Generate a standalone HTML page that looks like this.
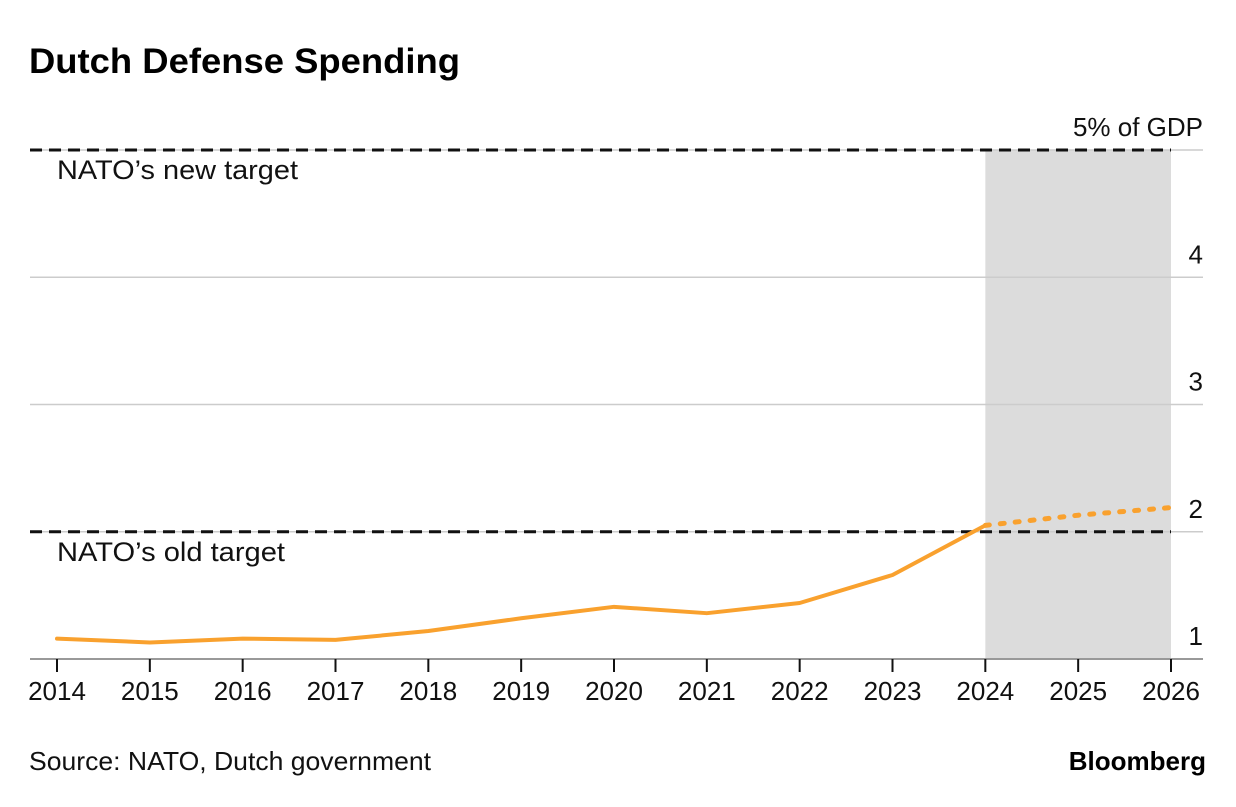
<!DOCTYPE html>
<html><head><meta charset="utf-8"><style>
body{margin:0;background:#fff;font-family:"Liberation Sans",sans-serif;}
</style></head><body>
<svg width="1236" height="802" xmlns="http://www.w3.org/2000/svg" font-family="Liberation Sans, sans-serif">
<text x="29" y="73" font-size="35" font-weight="bold" textLength="431" lengthAdjust="spacingAndGlyphs">Dutch Defense Spending</text>
<g id="plot"></g>
<text x="29" y="770" font-size="26" fill="#111" textLength="402" lengthAdjust="spacingAndGlyphs">Source: NATO, Dutch government</text>
<text x="1206" y="770" font-size="26" font-weight="bold" text-anchor="end">Bloomberg</text>
</svg>
<script>
const years=[2014,2015,2016,2017,2018,2019,2020,2021,2022,2023,2024,2025,2026];
const actual=[1.16,1.13,1.16,1.15,1.22,1.32,1.41,1.36,1.44,1.66,2.05];
const projYears=[2024,2025,2026];
const projected=[2.05,2.13,2.19];
const yTicks=[1,2,3,4,5];
const yTickLabels=["1","2","3","4","5% of GDP"];
const targets=[{v:5,label:"NATO’s new target"},{v:2,label:"NATO’s old target"}];
const shadeStart=2024, shadeEnd=2026;
const NS="http://www.w3.org/2000/svg";
const g=document.getElementById('plot');
const x=y=>57+(y-2014)*(1171-57)/12;
const yS=v=>659-(v-1)*127.25;
function mk(t,a){const e=document.createElementNS(NS,t);for(const k in a)e.setAttribute(k,a[k]);g.appendChild(e);return e;}
let r=mk('rect',{x:x(shadeStart),y:yS(5),width:x(shadeEnd)-x(shadeStart),height:yS(1)-yS(5),fill:'#dcdcdc'});


yTicks.forEach((v,i)=>{
 const l=mk('line',{x1:30,x2:1203,y1:yS(v),y2:yS(v),stroke:i==0?'#999':'#ccc','stroke-width':i==0?2:1.5});
 
 
 const t=mk('text',{x:1203,y:yS(v)-14,'font-size':26,'text-anchor':'end',fill:'#111'});
 t.textContent=yTickLabels[i];
 
 
});
years.forEach(yr=>{
 const l=mk('line',{x1:x(yr),x2:x(yr),y1:659,y2:672,stroke:'#111','stroke-width':2});
 
 
 const t=mk('text',{x:x(yr),y:700,'font-size':26,'text-anchor':'middle',fill:'#111'});
 t.textContent=yr;
 
 
});
targets.forEach(tg=>{
 const l=mk('line',{x1:30,x2:1171,y1:yS(tg.v),y2:yS(tg.v),stroke:'#111','stroke-width':3,'stroke-dasharray':'12 7'});
 
 
 const t=mk('text',{x:57,y:yS(tg.v)+29,'font-size':27,fill:'#111','textLength':tg.v==5?241:228,'lengthAdjust':'spacingAndGlyphs'});
 t.textContent=tg.label;
 
 
});
let p=mk('polyline',{points:actual.map((v,i)=>x(years[i])+','+yS(v)).join(' '),fill:'none',stroke:'#f9a12e','stroke-width':4,'stroke-linejoin':'round','stroke-linecap':'round'});


let q=mk('polyline',{points:projected.map((v,i)=>x(projYears[i])+','+yS(v)).join(' '),fill:'none',stroke:'#f9a12e','stroke-width':5,'stroke-dasharray':'4 11','stroke-linecap':'round'});


</script>
</body></html>
